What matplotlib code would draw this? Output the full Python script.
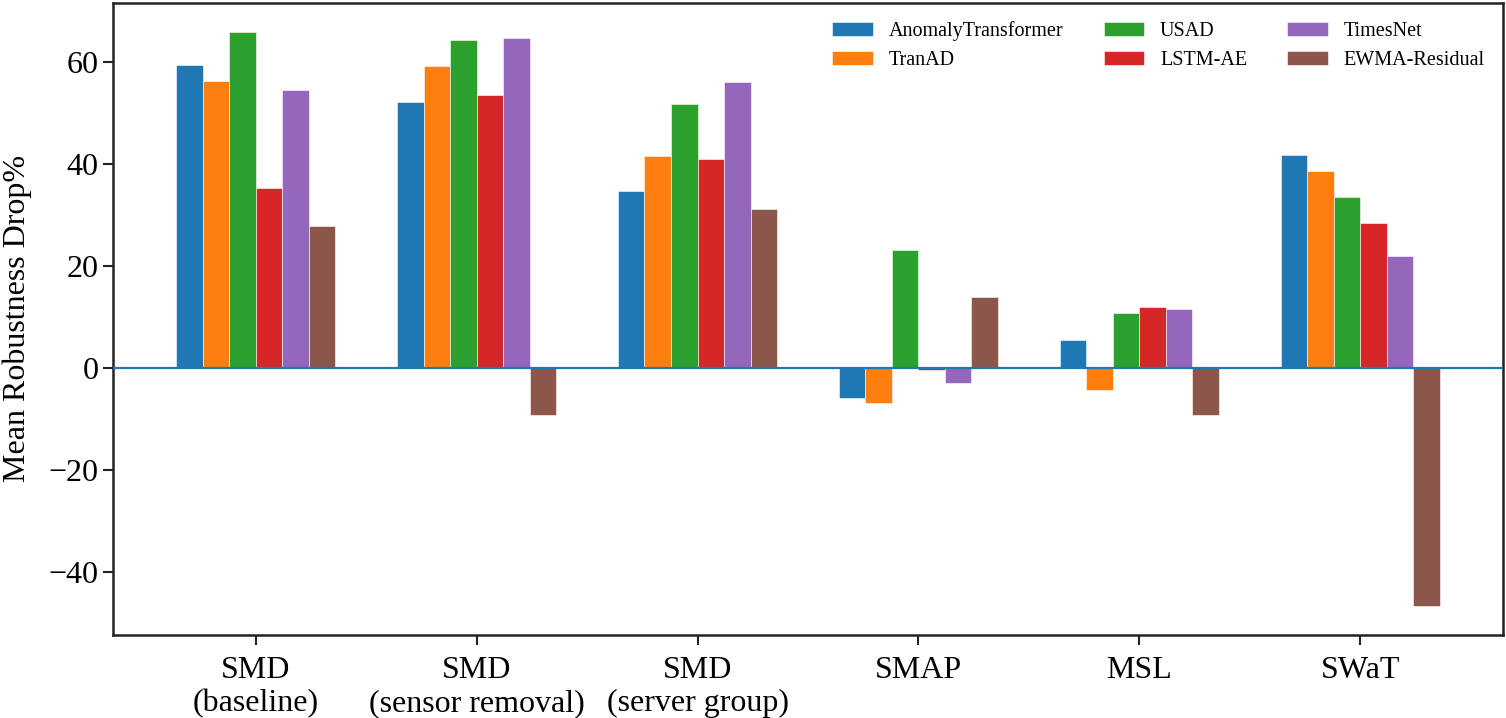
import matplotlib
matplotlib.use('Agg')
import matplotlib.pyplot as plt
import numpy as np

plt.rcParams['font.family'] = 'serif'
plt.rcParams['font.serif'] = ['Liberation Serif', 'DejaVu Serif']

# data
datasets = ['SMD\n(baseline)', 'SMD\n(sensor removal)', 'SMD\n(server group)', 'SMAP', 'MSL', 'SWaT']
models = ['AnomalyTransformer', 'TranAD', 'USAD', 'LSTM-AE', 'TimesNet', 'EWMA-Residual']
anomaly_transformer = [59.3, 52.1, 34.7, -5.9, 5.4, 41.8]
tranad = [56.2, 59.1, 41.6, -6.9, -4.4, 38.6]
usad = [65.9, 64.2, 51.7, 23.0, 10.7, 33.4]
lstm_ae = [35.3, 53.4, 40.9, -0.5, 11.9, 28.3]
timesnet = [54.5, 64.7, 56.0, -2.9, 11.5, 22.0]
ewma_residual = [27.7, -9.2, 31.1, 13.9, -9.2, -46.7]
series = [anomaly_transformer, tranad, usad, lstm_ae, timesnet, ewma_residual]
colors = ['tab:blue', 'tab:orange', 'tab:green', 'tab:red', 'tab:purple', 'tab:brown']

fig, ax = plt.subplots(figsize=(15.06, 7.18), dpi=100)
fig.subplots_adjust(left=0.075, right=0.998, top=0.996, bottom=0.116)

x = np.arange(len(datasets))
width = 0.12
for i, (name, vals) in enumerate(zip(models, series)):
    offset = (i - (len(models) - 1) / 2) * width
    ax.bar(x + offset, vals, width, label=name, color=colors[i],
           edgecolor='white', linewidth=0.4)

ax.axhline(0, color='tab:blue', linewidth=1.6, zorder=3)

ax.set_xticks(x)
ax.set_xticklabels(datasets, fontsize=23)
ax.set_ylabel('Mean Robustness Drop%', fontsize=23, labelpad=12)
ax.tick_params(axis='y', labelsize=23)
ax.tick_params(axis='x', pad=8)
ax.tick_params(length=7, width=1.5, color='#222222')
for s in ax.spines.values():
    s.set_linewidth(1.8)
    s.set_color('#222222')

ax.legend(loc='upper right', ncol=3, frameon=False, fontsize=14.5)

fig.savefig('out.png', dpi=100)
